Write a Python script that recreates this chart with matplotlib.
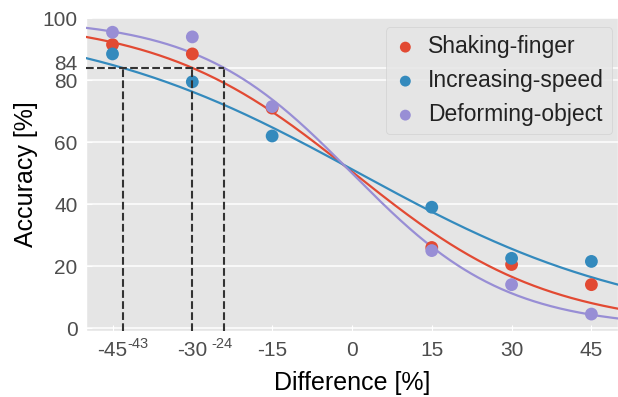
import numpy as np
import matplotlib
matplotlib.use("Agg")
import matplotlib.pyplot as plt
import matplotlib.transforms as mtransforms

plt.style.use("ggplot")
plt.rcParams['font.family'] = ['Liberation Sans', 'DejaVu Sans']
plt.rcParams['axes.unicode_minus'] = False

# ---- data ----
diff = [-45, -30, -15, 15, 30, 45]
series_names = ["Shaking-finger", "Increasing-speed", "Deforming-object"]
shaking = [91.5, 88.5, 71.0, 26.0, 20.5, 14.0]
increasing = [88.5, 79.5, 62.0, 39.0, 22.5, 21.5]
deforming = [95.5, 94.0, 71.5, 25.0, 14.0, 4.5]
colors = ["#E24A33", "#348ABD", "#988ED5"]
# fitted logistic parameters (slope, midpoint) per series
fit_slope = [0.0546, 0.0373, 0.069]
fit_mid = [0.37, 1.35, 0.0]

xticks = [-45, -30, -15, 0, 15, 30, 45]
yticks = [0, 20, 40, 60, 80, 84, 100]
threshold = 84
thr_x = [-43, -30, -24]

fig = plt.figure(figsize=(6.18, 3.97), dpi=100)
ax = fig.add_axes([0.139, 0.166, 0.861, 0.791])
ax.set_facecolor("#E5E5E5")

xs = np.linspace(-50, 50, 400)
data = [shaking, increasing, deforming]
for name, vals, c, k, m in zip(series_names, data, colors, fit_slope, fit_mid):
    ax.plot(xs, 100.0 / (1.0 + np.exp(k * (xs - m))), color=c, lw=1.6, zorder=3)
    ax.scatter(diff, vals, s=85, color=c, label=name, zorder=4, edgecolors='none')

ymin = -1
ax.hlines(threshold, -50, max(thr_x), colors="#333333", linestyles="--", lw=1.5, zorder=5)
ax.vlines(thr_x, ymin, threshold, colors="#333333", linestyles="--", lw=1.5, zorder=5)

ax.set_xlim(-50, 50)
ax.set_ylim(ymin, 100.4)
ax.set_xticks(xticks)
ax.set_yticks(yticks)
ax.grid(True, axis='y', color='white', lw=1.1)
ax.grid(False, axis='x')
ax.tick_params(axis='both', labelsize=15, direction='in', length=4, color='white',
               labelcolor='#4D4D4D')
ax.tick_params(axis='x', pad=7)
ax.tick_params(axis='y', pad=6)

# nudge the "84" label up a little so it doesn't sit on "80"
for lbl in ax.get_yticklabels():
    if lbl.get_text() == "84":
        lbl.set_transform(lbl.get_transform() +
                          mtransforms.ScaledTranslation(0, 5 / 100, fig.dpi_scale_trans))

# small extra labels for thresholds
ax.text(-42.2, -3.0, "-43", fontsize=10.5, color='#4D4D4D', ha='left', va='top', clip_on=False)
ax.text(-24.4, -3.0, "-24", fontsize=10.5, color='#4D4D4D', ha='center', va='top', clip_on=False)

ax.set_xlabel("Difference [%]", fontsize=18, color='black', labelpad=8)
ax.set_ylabel("Accuracy [%]", fontsize=18, color='black', labelpad=3)

leg = ax.legend(loc='upper right', fontsize=16.5, frameon=True, facecolor='#E5E5E5',
                edgecolor='#CCCCCC', handlelength=1.0, handletextpad=0.5,
                labelspacing=0.48, borderpad=0.35, borderaxespad=0.0,
                markerscale=0.85, bbox_to_anchor=(0.989, 0.968))
for t in leg.get_texts():
    t.set_color('#222222')

fig.savefig("out.png", dpi=100)
